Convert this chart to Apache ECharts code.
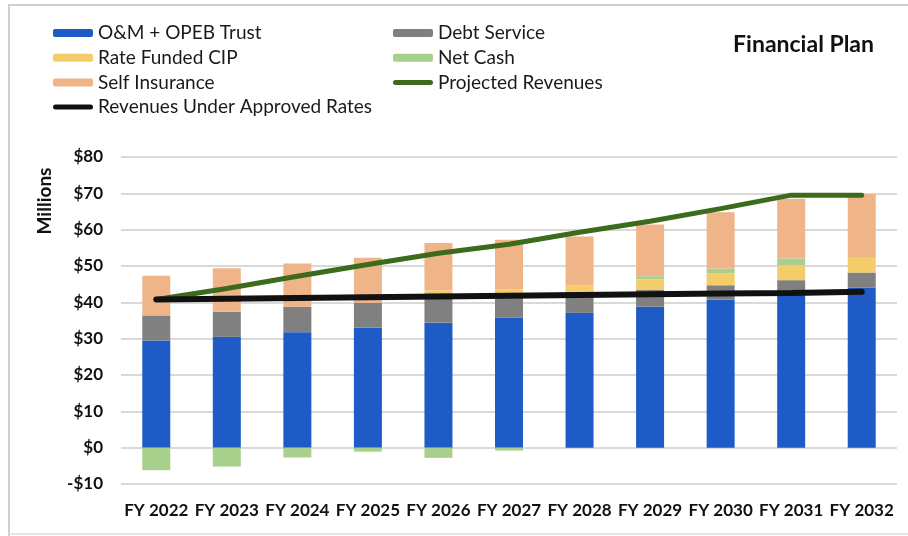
<!DOCTYPE html>
<html>
<head>
<meta charset="utf-8">
<script src="https://cdn.jsdelivr.net/npm/echarts@6/dist/echarts.min.js"></script>
<style>
html,body{margin:0;padding:0;background:#fff;}
#chart{width:908px;height:536px;}
</style>
</head>
<body>
<div id="chart"></div>
<script>
const categories = ['FY 2022','FY 2023','FY 2024','FY 2025','FY 2026','FY 2027','FY 2028','FY 2029','FY 2030','FY 2031','FY 2032'];
const omOpeb = [29.5, 30.5, 31.8, 33.1, 34.4, 35.8, 37.1, 38.8, 40.8, 42.5, 44.0];
const debtService = [6.9, 6.9, 7.0, 6.8, 8.1, 6.5, 5.8, 4.6, 3.9, 3.6, 4.2];
const rateFundedCip = [0, 0, 0, 0, 0.8, 1.3, 1.7, 2.9, 3.3, 4.1, 4.3];
const netCash = [-6.2, -5.2, -2.7, -1.1, -2.8, -0.8, 0, 0.9, 1.3, 1.9, 0];
const selfInsurance = [10.9, 12.0, 11.9, 12.4, 13.0, 13.6, 13.5, 14.2, 15.5, 16.4, 17.3];
const projectedRevenues = [40.8, 43.8, 47.2, 50.4, 53.5, 56.0, 59.3, 62.3, 65.8, 69.5, 69.5];
const approvedRevenues = [40.8, 41.0, 41.2, 41.4, 41.6, 41.8, 42.0, 42.2, 42.4, 42.6, 42.9];
const yTicks = {min: -10, max: 80, interval: 10};

const FONT = 'Lato';
const chart = echarts.init(document.getElementById('chart'));

function barSeries(name, data, color) {
  return {
    name: name, type: 'bar', stack: 'total', data: data, barWidth: 28,
    itemStyle: {color: color}, emphasis: {disabled: true}
  };
}
function lineSeries(name, data, color, width) {
  return {
    name: name, type: 'line', data: data, symbol: 'none', z: 5,
    lineStyle: {color: color, width: width, cap: 'round'},
    itemStyle: {color: color}, emphasis: {disabled: true}
  };
}

const lineIcon = 'path://M2.5,0 L37.5,0 A2.5,2.5 0 0 1 37.5,5 L2.5,5 A2.5,2.5 0 0 1 2.5,0 Z';
const legendText = {fontFamily: FONT, fontSize: 19, color: '#1a1a1a', lineHeight: 20};

chart.setOption({
  animation: false,
  title: {
    text: 'Financial Plan', right: 29, top: 28,
    textStyle: {fontFamily: FONT, fontSize: 23, fontWeight: 'bold', color: '#111'}
  },
  legend: [
    {
      data: ['O&M + OPEB Trust', 'Rate Funded CIP', 'Self Insurance',
             {name: 'Revenues Under Approved Rates', icon: lineIcon}],
      orient: 'vertical', left: 53, top: 23, padding: 0, itemGap: 4.7,
      itemWidth: 40, itemHeight: 8, textStyle: legendText, selectedMode: false
    },
    {
      data: ['Debt Service', 'Net Cash', {name: 'Projected Revenues', icon: lineIcon}],
      orient: 'vertical', left: 393, top: 23, padding: 0, itemGap: 4.7,
      itemWidth: 40, itemHeight: 8, textStyle: legendText, selectedMode: false
    }
  ],
  graphic: [
    {type: 'text', x: 45, y: 201, rotation: Math.PI / 2,
     style: {text: 'Millions', fontFamily: FONT, fontSize: 19, fontWeight: 'bold', fill: '#111',
             textAlign: 'center', textVerticalAlign: 'middle'}},
    {type: 'polyline', shape: {points: [[9, 536], [9, 5], [908, 5]]},
     style: {stroke: '#cfcfcf', lineWidth: 2, fill: null}},
    {type: 'line', shape: {x1: 9, y1: 534, x2: 908, y2: 534},
     style: {stroke: '#dddddd', lineWidth: 1.5}}
  ],
  grid: {left: 121, right: 11, top: 157, bottom: 52},
  xAxis: {
    type: 'category', data: categories,
    axisLine: {show: false, onZero: false}, axisTick: {show: false},
    axisLabel: {fontFamily: FONT, fontSize: 17, fontWeight: 'bold', color: '#111', margin: 18, interval: 0}
  },
  yAxis: {
    type: 'value', min: yTicks.min, max: yTicks.max, interval: yTicks.interval,
    axisLine: {show: false}, axisTick: {show: false},
    splitLine: {lineStyle: {color: '#cccccc', width: 1.5}},
    axisLabel: {
      fontFamily: FONT, fontSize: 17, fontWeight: 'bold', color: '#111', margin: 18,
      formatter: function (v) { return v < 0 ? '-$' + Math.abs(v) : '$' + v; }
    }
  },
  series: [
    barSeries('O&M + OPEB Trust', omOpeb, '#1f5bc6'),
    barSeries('Debt Service', debtService, '#808080'),
    barSeries('Rate Funded CIP', rateFundedCip, '#f4cd6a'),
    barSeries('Net Cash', netCash, '#a9cf8c'),
    barSeries('Self Insurance', selfInsurance, '#efb488'),
    lineSeries('Projected Revenues', projectedRevenues, '#3b6b1b', 5),
    lineSeries('Revenues Under Approved Rates', approvedRevenues, '#111111', 6)
  ]
});
</script>
</body>
</html>
